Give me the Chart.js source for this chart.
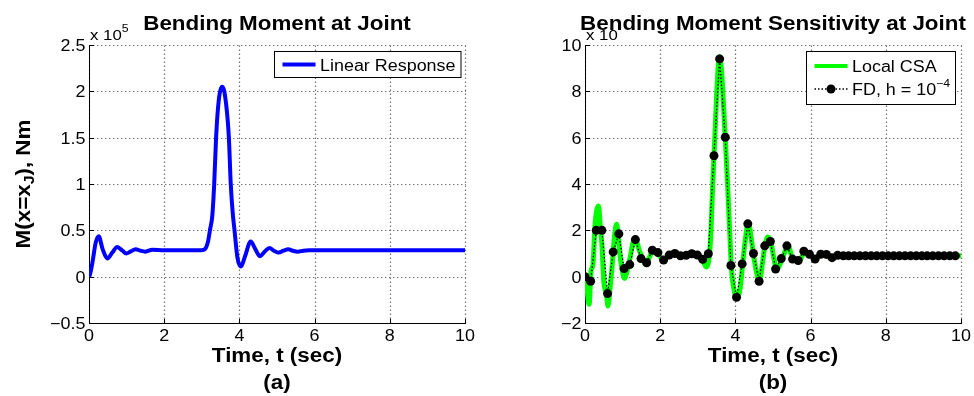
<!DOCTYPE html>
<html><head><meta charset="utf-8">
<script src="https://cdn.jsdelivr.net/npm/chart.js@4.4.1/dist/chart.umd.min.js"></script>
<style>
html,body{margin:0;padding:0;background:#fff;}
#wrap{position:relative;width:974px;height:396px;overflow:hidden;background:#fff;}
canvas{position:absolute;top:0;}
</style></head><body>
<div id="wrap">
<canvas id="cA" width="487" height="396" style="left:0;width:487px;height:396px"></canvas>
<canvas id="cB" width="487" height="396" style="left:487px;width:487px;height:396px"></canvas>
</div>
<script>
// ---------- DATA ----------
const timeA = [0, 0.03, 0.09, 0.18, 0.26, 0.36, 0.49, 0.62, 0.75, 0.89, 0.99, 1.1, 1.24, 1.37, 1.5, 1.68, 2.0, 2.5, 3.0, 3.08, 3.16, 3.22, 3.28, 3.33, 3.38, 3.45, 3.55, 3.65, 3.72, 3.77, 3.82, 3.87, 3.95, 4.04, 4.15, 4.3, 4.42, 4.55, 4.67, 4.8, 4.92, 5.05, 5.17, 5.3, 5.42, 5.55, 5.7, 5.85, 6.0, 7.0, 8.0, 9.0, 10.0];
const momentA = [0, 3000, 15000, 37000, 43500, 30000, 19600, 26000, 32000, 28000, 25000, 27000, 29700, 28000, 27000, 29000, 28500, 28500, 28500, 29500, 37000, 51000, 66000, 100000, 150000, 190000, 205000, 185000, 150000, 100000, 70000, 50000, 20000, 11000, 22000, 38000, 30000, 22000, 27000, 31000, 28000, 26000, 28000, 29500, 28000, 27000, 28000, 28500, 28500, 28500, 28500, 28500, 28500];

const timeCSA = [0, 0.05, 0.11, 0.16, 0.21, 0.27, 0.36, 0.41, 0.45, 0.5, 0.57, 0.61, 0.67, 0.74, 0.79, 0.84, 0.88, 0.94, 1.01, 1.05, 1.12, 1.2, 1.29, 1.34, 1.45, 1.53, 1.6, 1.69, 1.78, 1.91, 2.05, 2.1, 2.22, 2.4, 2.53, 2.69, 2.85, 3.0, 3.14, 3.22, 3.31, 3.35, 3.39, 3.43, 3.58, 3.73, 3.8, 3.86, 3.89, 3.97, 4.04, 4.13, 4.19, 4.26, 4.34, 4.48, 4.56, 4.64, 4.72, 4.78, 4.86, 4.94, 5.02, 5.1, 5.24, 5.4, 5.53, 5.7, 5.84, 5.99, 6.14, 6.26, 6.43, 6.58, 6.75, 7.0, 8.0, 9.0, 10.0];
const sensCSA = [0, -0.5, -1.19, 0.25, 0.5, 2.3, 3.05, 2.1, 1.4, -0.2, -0.76, -1.27, -0.45, 0.82, 1.83, 2.26, 1.83, 0.82, 0.1, -0.07, 0.24, 0.82, 1.55, 1.62, 1.1, 0.8, 0.55, 0.75, 1.04, 1.04, 0.75, 0.7, 0.89, 0.99, 0.85, 0.9, 0.94, 0.88, 0.68, 0.42, 0.96, 1.97, 3.7, 5.2, 9.5, 6.0, 3.7, 1.54, 0.46, -0.62, -0.94, -0.47, 0.5, 1.54, 2.3, 0.96, 0.2, -0.23, 0.6, 1.28, 1.71, 1.51, 0.82, 0.3, 0.75, 1.32, 0.75, 0.68, 1.06, 0.92, 0.75, 0.96, 0.95, 0.82, 0.92, 0.9, 0.9, 0.9, 0.9];

const timeFD = [0, 0.15, 0.30, 0.45, 0.60, 0.75, 0.90, 1.04, 1.19, 1.34, 1.49, 1.64, 1.79, 1.94, 2.09, 2.24, 2.39, 2.54, 2.69, 2.84, 2.99, 3.13, 3.28, 3.43, 3.58, 3.73, 3.88, 4.03, 4.18, 4.33, 4.48, 4.63, 4.78, 4.93, 5.07, 5.22, 5.37, 5.52, 5.67, 5.82, 5.97, 6.12, 6.27, 6.42, 6.57, 6.72, 6.87, 7.01, 7.16, 7.31, 7.46, 7.61, 7.76, 7.91, 8.06, 8.21, 8.36, 8.51, 8.66, 8.81, 8.96, 9.10, 9.25, 9.40, 9.55, 9.70, 9.85];
const sensFD = [0, -0.2, 2.0, 2.0, -0.73, 1.07, 1.85, 0.35, 0.52, 1.6, 0.78, 0.6, 1.14, 1.04, 0.72, 0.93, 1.0, 0.9, 0.92, 0.99, 0.93, 0.75, 0.99, 5.22, 9.4, 6.02, 0.48, -0.89, 0.55, 2.28, 1.0, -0.2, 1.33, 1.52, 0.33, 0.78, 1.33, 0.76, 0.7, 1.1, 0.97, 0.76, 0.97, 0.96, 0.82, 0.92, 0.9, 0.9, 0.9, 0.9, 0.9, 0.9, 0.9, 0.9, 0.9, 0.9, 0.9, 0.9, 0.9, 0.9, 0.9, 0.9, 0.9, 0.9, 0.9, 0.9, 0.9];

const xRange = [0, 10], xStep = 2;
const yRangeA = [-50000, 250000], yStepA = 50000, expA = 100000;
const yRangeB = [-2, 10], yStepB = 2;

// ---------- STYLE / HELPERS ----------
const FONT = '"Liberation Sans", Arial, Helvetica, sans-serif';
const SX = 1.12;
const GRID = 'rgba(90,90,90,0.85)';

function pts(xs, ys) { return xs.map((x, i) => ({x: x, y: ys[i]})); }
function fmtNum(v) { const s = String(Math.round(v * 1000) / 1000); return s.replace('-', '\u2212'); }

function runsWidth(ctx, runs) {
  let w = 0;
  for (const r of runs) { ctx.font = (r.bold ? 'bold ' : '') + r.size + 'px ' + FONT; w += ctx.measureText(r.t).width; }
  return w * SX;
}
function drawRuns(ctx, runs, x, y, align, rot) {
  ctx.save();
  ctx.translate(x, y);
  if (rot) ctx.rotate(-Math.PI / 2);
  const w = runsWidth(ctx, runs);
  let cx = align === 'center' ? -w / 2 : (align === 'right' ? -w : 0);
  ctx.fillStyle = '#000';
  ctx.textBaseline = 'alphabetic';
  ctx.textAlign = 'left';
  for (const r of runs) {
    ctx.font = (r.bold ? 'bold ' : '') + r.size + 'px ' + FONT;
    ctx.save();
    ctx.translate(cx, r.dy || 0);
    ctx.scale(SX, 1);
    ctx.fillText(r.t, 0, 0);
    ctx.restore();
    cx += ctx.measureText(r.t).width * SX;
  }
  ctx.restore();
}

// grid + axes drawn before the data, using the chart's own scales for positions
const axesPlugin = {
  id: 'axesGrid',
  beforeDatasetsDraw(chart) {
    const ctx = chart.ctx, a = chart.chartArea, xs = chart.scales.x, ys = chart.scales.y;
    const L = Math.round(a.left), B = Math.round(a.bottom), T = Math.round(a.top), R = Math.round(a.right);
    ctx.save();
    ctx.lineWidth = 1.2;
    ctx.strokeStyle = GRID;
    ctx.setLineDash([1.4, 2.6]);
    ctx.lineCap = 'butt';
    ctx.beginPath();
    for (const t of xs.ticks) {
      const px = Math.round(xs.getPixelForValue(t.value)) + 0.5;
      ctx.moveTo(px, B); ctx.lineTo(px, T);
    }
    for (const t of ys.ticks) {
      const py = Math.round(ys.getPixelForValue(t.value)) + 0.5;
      ctx.moveTo(L, py); ctx.lineTo(R + 1, py);
    }
    ctx.stroke();
    ctx.setLineDash([]);
    ctx.lineWidth = 1;
    ctx.strokeStyle = '#000';
    ctx.beginPath();
    ctx.moveTo(L + 0.5, T); ctx.lineTo(L + 0.5, B + 0.5); ctx.lineTo(R + 1, B + 0.5);
    for (const t of xs.ticks) {
      const px = Math.round(xs.getPixelForValue(t.value)) + 0.5;
      ctx.moveTo(px, B + 0.5); ctx.lineTo(px, B - 4);
    }
    for (const t of ys.ticks) {
      const py = Math.round(ys.getPixelForValue(t.value)) + 0.5;
      ctx.moveTo(L + 0.5, py); ctx.lineTo(L + 5, py);
    }
    ctx.stroke();
    ctx.restore();
  }
};

function decoPlugin(cfg) {
  return {
    id: 'deco',
    afterDraw(chart) {
      const ctx = chart.ctx, a = chart.chartArea, xs = chart.scales.x, ys = chart.scales.y;
      const cx = (a.left + a.right) / 2, cy = (a.top + a.bottom) / 2;
      xs.ticks.forEach(t => {
        drawRuns(ctx, [{t: fmtNum(t.value), size: 16}], xs.getPixelForValue(t.value), a.bottom + 18, 'center');
      });
      ys.ticks.forEach(t => {
        drawRuns(ctx, [{t: fmtNum(t.value / cfg.yDiv), size: 16}], a.left - 3.5, ys.getPixelForValue(t.value) + 6, 'right');
      });
      drawRuns(ctx, cfg.exponent, a.left + 1, a.top - 5, 'left');
      drawRuns(ctx, [{t: cfg.title, size: 20, bold: true}], cx, a.top - 15.5, 'center');
      drawRuns(ctx, [{t: 'Time, t (sec)', size: 20, bold: true}], cx, a.bottom + 38.5, 'center');
      drawRuns(ctx, [{t: cfg.sub, size: 20, bold: true}], cx, a.bottom + 66, 'center');
      drawRuns(ctx, cfg.ylabel, cfg.ylabelX, cy, 'center', true);
      const lg = cfg.legend;
      ctx.save();
      ctx.fillStyle = '#fff'; ctx.strokeStyle = '#000'; ctx.lineWidth = 1; ctx.setLineDash([]);
      const bx = Math.round(a.right - lg.rightGap - lg.w) + 0.5, by = Math.round(a.top + lg.topGap) + 0.5;
      ctx.fillRect(bx, by, lg.w, lg.h); ctx.strokeRect(bx, by, lg.w, lg.h);
      lg.items.forEach(it => {
        const ly = by + it.y;
        ctx.save();
        ctx.strokeStyle = it.color; ctx.lineWidth = it.width; ctx.setLineDash(it.dash || []);
        ctx.beginPath(); ctx.moveTo(bx + 8, ly); ctx.lineTo(bx + 41, ly); ctx.stroke();
        if (it.marker) { ctx.setLineDash([]); ctx.fillStyle = '#000'; ctx.beginPath(); ctx.arc(bx + 24.5, ly, 4.5, 0, Math.PI * 2); ctx.fill(); }
        ctx.restore();
        drawRuns(ctx, it.text, bx + 45.5, ly + 6, 'left');
      });
      ctx.restore();
    }
  };
}

function makeChart(id, datasets, yRange, yStep, yWidth, padRight, cfg) {
  return new Chart(document.getElementById(id), {
    type: 'line',
    data: {datasets: datasets},
    options: {
      responsive: false, animation: false, devicePixelRatio: 1,
      layout: {padding: {left: 0, right: padRight, top: 45, bottom: 0}},
      plugins: {legend: {display: false}, tooltip: {enabled: false}, title: {display: false}},
      scales: {
        x: {type: 'linear', min: xRange[0], max: xRange[1],
            ticks: {stepSize: xStep, display: false},
            grid: {display: false, drawTicks: false},
            border: {display: false},
            afterFit(s) { s.height = 73; }},
        y: {type: 'linear', min: yRange[0], max: yRange[1],
            ticks: {stepSize: yStep, display: false},
            grid: {display: false, drawTicks: false},
            border: {display: false},
            afterFit(s) { s.width = yWidth; }}
      }
    },
    plugins: [axesPlugin, decoPlugin(cfg)]
  });
}

makeChart('cA', [
  {data: pts(timeA, momentA), borderColor: '#0000ff', borderWidth: 4, pointRadius: 0,
   cubicInterpolationMode: 'monotone', fill: false}
], yRangeA, yStepA, 89, 22, {
  title: 'Bending Moment at Joint', sub: '(a)', yDiv: expA,
  exponent: [{t: 'x 10', size: 15}, {t: '5', size: 11, dy: -8.5}],
  ylabelX: 30,
  ylabel: [{t: 'M(x=x', size: 20, bold: true}, {t: 'J', size: 14, bold: true, dy: 4}, {t: '), Nm', size: 20, bold: true}],
  legend: {w: 186.5, h: 26, rightGap: 5, topGap: 5.5, items: [
    {y: 13, color: '#0000ff', width: 4, text: [{t: 'Linear Response', size: 16}]}
  ]}
});

makeChart('cB', [
  {data: pts(timeFD, sensFD), borderColor: '#000', borderWidth: 1.3, borderDash: [1.5, 2],
   pointRadius: 4.5, pointBackgroundColor: '#000', pointBorderColor: '#000', pointBorderWidth: 0,
   tension: 0, fill: false, order: 0},
  {data: pts(timeCSA, sensCSA), borderColor: '#00ff00', borderWidth: 5, pointRadius: 0,
   cubicInterpolationMode: 'monotone', fill: false, order: 1}
], yRangeB, yStepB, 98, 13, {
  title: 'Bending Moment Sensitivity at Joint', sub: '(b)', yDiv: 1,
  exponent: [{t: 'x 10', size: 15}],
  ylabelX: 540,
  ylabel: [{t: 'DM/DL(x=x', size: 20, bold: true}, {t: 'J', size: 14, bold: true, dy: 4}, {t: '), Nm/m', size: 20, bold: true}],
  legend: {w: 149, h: 53, rightGap: 6.5, topGap: 5.5, items: [
    {y: 14.5, color: '#00ff00', width: 4, text: [{t: 'Local CSA', size: 16}]},
    {y: 37.5, color: '#000', width: 1.3, dash: [1.5, 2], marker: true,
     text: [{t: 'FD, h = 10', size: 16}, {t: '\u22124', size: 11, dy: -8}]}
  ]}
});
</script>
</body></html>
